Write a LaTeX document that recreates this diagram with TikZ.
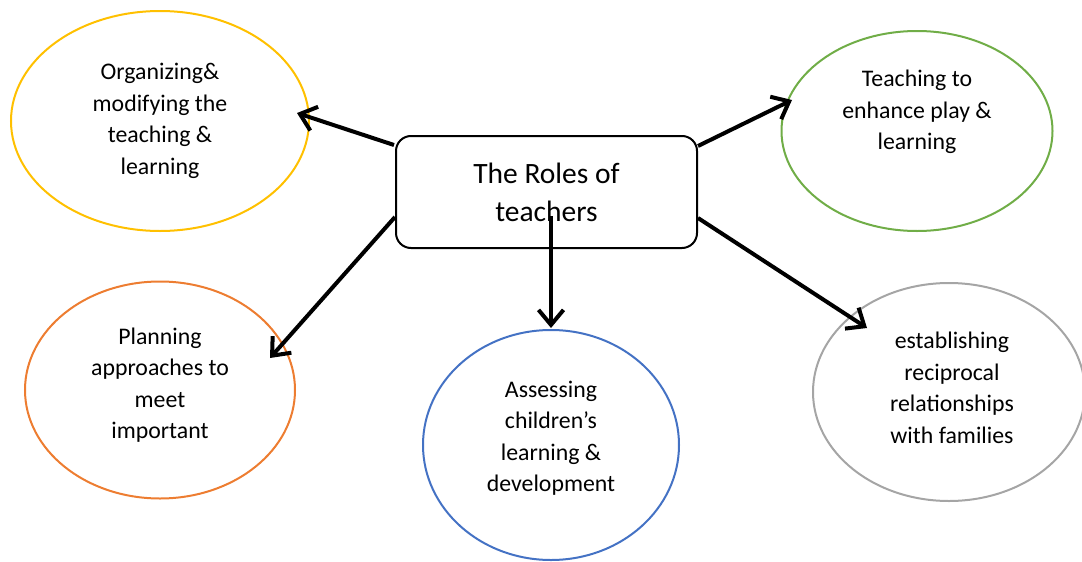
\documentclass[tikz,border=0pt]{standalone}
\usepackage{fontspec}
\setmainfont{Carlito}
\usetikzlibrary{arrows.meta,shapes.geometric}
\definecolor{cyel}{HTML}{FFC000}
\definecolor{cgrn}{HTML}{70AD47}
\definecolor{corg}{HTML}{ED7D31}
\definecolor{cblu}{HTML}{4472C4}
\definecolor{cgry}{HTML}{A5A5A5}
\begin{document}
\begin{tikzpicture}[x=1pt,y=-1pt,
  oval/.style={draw,ellipse,line width=2pt,inner sep=0pt},
  lbl/.style={align=center,font=\fontsize{23.8}{31.5}\selectfont,inner sep=0pt},
  hub/.style={draw,line width=2pt,rounded corners=15pt,minimum width=301pt,minimum height=112pt,inner sep=0pt,align=center,font=\fontsize{29.5}{38}\selectfont},
  conn/.style={line width=4pt,-{Straight Barb[length=15pt,width=25pt,line width=4pt]}}
]
\useasboundingbox (0,0) rectangle (1082,562);
% ellipses
\node[oval,draw=cyel,minimum width=298pt,minimum height=220pt] (yo) at (160,121) {};
\node[oval,draw=cgrn,minimum width=271pt,minimum height=200pt] (go) at (917,131) {};
\node[oval,draw=corg,minimum width=270pt,minimum height=217pt] (oo) at (160,390) {};
\node[oval,draw=cblu,minimum width=256pt,minimum height=230pt] (bo) at (551,445) {};
\node[oval,draw=cgry,minimum width=272pt,minimum height=218pt] (ro) at (949,392) {};
% labels
\node[lbl] (yt) at (160,121) {Organizing\&\\modifying the\\teaching \&\\learning};
\node[lbl] (gt) at (917,112) {Teaching to\\enhance play \&\\learning};
\node[lbl] (ot) at (160,385) {Planning\\approaches to\\meet\\important};
\node[lbl] (bt) at (551,438) {Assessing\\children’s\\learning \&\\development};
\node[lbl] (rt) at (952,388) {establishing\\reciprocal\\relationships\\with families};
% hub
\node[hub] (hub) at (546.5,192) {The Roles of\\teachers};
% connector ends
\coordinate (s1) at (394,145);
\coordinate (s2) at (698,146);
\coordinate (s3) at (551,216);
\coordinate (s4) at (395,217);
\coordinate (s5) at (698,218);
\coordinate (e1) at (297,113);
\coordinate (e2) at (792,100);
\coordinate (e3) at (551,328);
\coordinate (e4) at (270,358);
\coordinate (e5) at (867,328);
\draw[conn] (s1) -- (e1);
\draw[conn] (s2) -- (e2);
\draw[conn] (s3) -- (e3);
\draw[conn] (s4) -- (e4);
\draw[conn] (s5) -- (e5);
\end{tikzpicture}
\end{document}
